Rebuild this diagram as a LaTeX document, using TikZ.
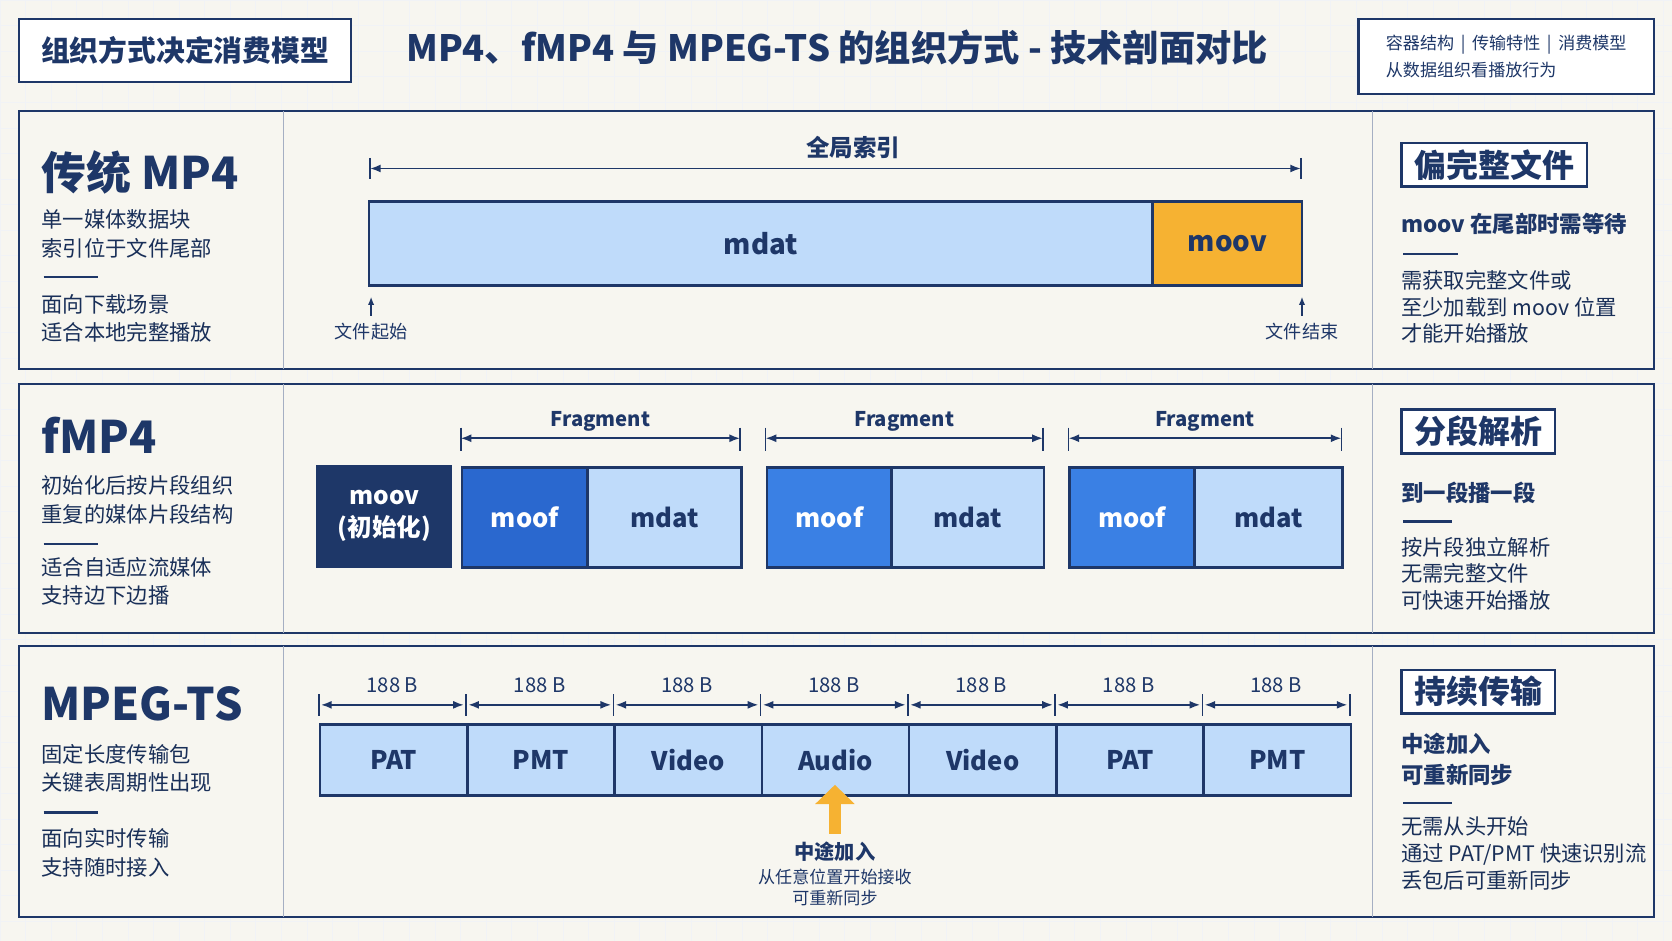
\documentclass[tikz,border=0pt]{standalone}
\usepackage{fontspec}
\setmainfont{Noto Sans CJK SC}
\usetikzlibrary{positioning,arrows.meta}
\definecolor{navy}{HTML}{1E3768}
\definecolor{paper}{HTML}{F7F6F0}
\definecolor{lblue}{HTML}{BFDBFA}
\definecolor{mblue}{HTML}{3A80E4}
\definecolor{dblue}{HTML}{2A68CF}
\definecolor{orng}{HTML}{F6B232}
\tikzset{
  panel/.style={draw=navy,line width=1pt,fill=paper},
  tag/.style={draw=navy,line width=1.2pt,fill=white,font=\bfseries\fontsize{15}{18}\selectfont,text=navy,inner xsep=6pt,inner ysep=3pt},
  rowttl/.style={anchor=west,font=\bfseries\fontsize{21}{24}\selectfont,text=navy},
  txt/.style={anchor=west,font=\fontsize{10}{12}\selectfont,text=navy!85!black},
  btxt/.style={anchor=west,font=\bfseries\fontsize{10.5}{12}\selectfont,text=navy},
  blk/.style={draw=navy,line width=1.2pt,font=\bfseries\fontsize{13}{15}\selectfont,text=navy,inner sep=0pt},
  dim/.style={navy,line width=0.8pt,{Latex[length=5pt]}-{Latex[length=5pt]}},
  small/.style={font=\bfseries\fontsize{9.5}{11}\selectfont,text=navy},
}
\begin{document}
\begin{tikzpicture}[x=0.5pt,y=-0.5pt]
  \fill[paper] (0,0) rectangle (1568,882);
  \useasboundingbox (0,0) rectangle (1568,882);
  \foreach \gx in {0,24,...,1568} \draw[navy!6] (\gx,0) -- (\gx,882);
  \foreach \gy in {0,24,...,882} \draw[navy!6] (0,\gy) -- (1568,\gy);

  % header
  \node[draw=navy,line width=1pt,fill=white,minimum width=155.5pt,minimum height=29.5pt,font=\bfseries\fontsize{13.5}{16}\selectfont,text=navy] (head) at (173.5,47.5) {组织方式决定消费模型};
  \node[font=\bfseries\fontsize{17}{20}\selectfont,text=navy] (title) at (785,45) {MP4、fMP4 与 MPEG-TS 的组织方式 - 技术剖面对比};
  \node[draw=navy,line width=1pt,fill=white,minimum width=138.5pt,minimum height=35pt,align=left,font=\fontsize{8}{13}\selectfont,text=navy] (keys) at (1412.5,53) {容器结构 \,\textbar\, 传输特性 \,\textbar\, 消费模型\\从数据组织看播放行为};

  % panels
  \foreach \ya/\yb in {104/346,360/594,606/860}{
    \draw[panel] (18,\ya) rectangle (1551,\yb);
    \draw[navy!40] (266,\ya) -- (266,\yb);
    \draw[navy!40] (1287,\ya) -- (1287,\yb);
  }

  % MP4
  \node[rowttl] (mp4) at (32,162) {传统 MP4};
  \node[txt] (m1) at (32,206) {单一媒体数据块};
  \node[txt] (m2) at (32,233) {索引位于文件尾部};
  \draw[navy,line width=1pt] (41,260) -- (92,260);
  \node[txt] (m3) at (32,285) {面向下载场景};
  \node[txt] (m4) at (32,312) {适合本地完整播放};
  \node[blk,fill=lblue,minimum width=367.5pt,minimum height=39.5pt] (mdat) at (713.5,228.5) {mdat};
  \node[blk,fill=orng,minimum width=70pt,minimum height=39.5pt] (moov) at (1151,228.5) {moov};
  \coordinate (gl) at (347,158); \coordinate (gr) at (1220,158);
  \draw[dim] (gl) -- (gr);
  \draw[navy,line width=0.8pt] (347,148) -- (347,168) (1220,148) -- (1220,168);
  \node[small,font=\bfseries\fontsize{11}{13}\selectfont] (gidx) at (800,138) {全局索引};
  \node[small,font=\fontsize{8.5}{10}\selectfont] (fs) at (348,311) {文件起始};
  \node[small,font=\fontsize{8.5}{10}\selectfont] (fe) at (1221,311) {文件结束};
  \coordinate (fsa) at (348,278); \coordinate (fea) at (1221,278);
  \draw[navy,line width=1pt,-{Latex[length=4pt]}] (fs.north) -- (fsa);
  \draw[navy,line width=1pt,-{Latex[length=4pt]}] (fe.north) -- (fea);
  \node[tag,anchor=north west] (t1) at (1313,133) {偏完整文件};
  \node[btxt] (r1) at (1307,210) {moov 在尾部时需等待};
  \draw[navy,line width=1pt] (1316,238) -- (1367,238);
  \node[txt] (r2) at (1307,263) {需获取完整文件或};
  \node[txt] (r3) at (1307,288) {至少加载到 moov 位置};
  \node[txt] (r4) at (1307,313) {才能开始播放};

  % fMP4
  \node[rowttl] (fmp4) at (32,408) {fMP4};
  \node[txt] (f1) at (32,455) {初始化后按片段组织};
  \node[txt] (f2) at (32,482) {重复的媒体片段结构};
  \draw[navy,line width=1pt] (41,510) -- (92,510);
  \node[txt] (f3) at (32,532) {适合自适应流媒体};
  \node[txt] (f4) at (32,558) {支持边下边播};
  \node[blk,fill=navy,text=white,align=center,minimum width=62.5pt,minimum height=47pt,font=\bfseries\fontsize{11.5}{15}\selectfont] (init) at (360.5,484) {moov\\(初始化)};
  \foreach \xa/\xb/\xc/\col/\i in {432/550/694/dblue/1,718/835/978/mblue/2,1002/1119/1258/mblue/3}{
    \node[blk,fill=\col,text=white,anchor=north west,minimum width={(\xb-\xa)/2*1pt},minimum height=47pt,font=\bfseries\fontsize{12}{14}\selectfont] (moof\i) at (\xa,437) {moof};
    \node[blk,fill=lblue,anchor=north west,minimum width={(\xc-\xb)/2*1pt},minimum height=47pt,font=\bfseries\fontsize{12}{14}\selectfont] (fdat\i) at (\xb,437) {mdat};
    \coordinate (fl\i) at (\xa,411); \coordinate (fr\i) at (\xc,411);
    \draw[dim] (fl\i) -- (fr\i);
    \draw[navy,line width=0.8pt] (\xa,401) -- (\xa,423) (\xc,401) -- (\xc,423);
    \node[small,font=\bfseries\fontsize{9.5}{11}\selectfont] (fl\i t) at ({(\xa+\xc)/2},395) {Fragment};
  }
  \node[tag,anchor=north west] (t2) at (1313,383) {分段解析};
  \node[btxt] (s1) at (1307,462) {到一段播一段};
  \draw[navy,line width=1pt] (1316,489) -- (1362,489);
  \node[txt] (s2) at (1307,513) {按片段独立解析};
  \node[txt] (s3) at (1307,538) {无需完整文件};
  \node[txt] (s4) at (1307,563) {可快速开始播放};

  % MPEG-TS
  \node[rowttl] (ts) at (32,660) {MPEG-TS};
  \node[txt] (p1) at (32,707) {固定长度传输包};
  \node[txt] (p2) at (32,734) {关键表周期性出现};
  \draw[navy,line width=1pt] (41,762) -- (92,762);
  \node[txt] (p3) at (32,786) {面向实时传输};
  \node[txt] (p4) at (32,813) {支持随时接入};
  \foreach \lab [count=\i from 0] in {PAT,PMT,Video,Audio,Video,PAT,PMT}{
    \pgfmathsetmacro{\xa}{299+\i*138.1}
    \node[blk,fill=lblue,anchor=north west,minimum width=69.05pt,minimum height=33.5pt,font=\bfseries\fontsize{12}{14}\selectfont] (pk\i) at (\xa,678) {\lab};
    \coordinate (pl\i) at (\xa+2,661); \coordinate (pr\i) at (\xa+136,661);
    \draw[dim] (pl\i) -- (pr\i);
    \draw[navy,line width=0.8pt] (\xa,651) -- (\xa,671);
    \node[small,font=\fontsize{9.5}{11}\selectfont] (pb\i) at (\xa+69,643) {188 B};
  }
  \draw[navy,line width=0.8pt] (1266,651) -- (1266,671);
  \coordinate (jtail) at (783,782); \coordinate (jtip) at (783,736);
  \draw[orng,line width=6pt,-{Triangle[length=9pt,width=18pt]}] (jtail) -- (jtip);
  \node[small,font=\bfseries\fontsize{9.5}{11}\selectfont] (join) at (783,799) {中途加入};
  \node[small,font=\fontsize{8}{10}\selectfont] (join2) at (783,822) {从任意位置开始接收};
  \node[small,font=\fontsize{8}{10}\selectfont] (join3) at (783,842) {可重新同步};
  \node[tag,anchor=north west] (t3) at (1313,627) {持续传输};
  \node[btxt] (u1) at (1307,698) {中途加入};
  \node[btxt] (u2) at (1307,727) {可重新同步};
  \draw[navy,line width=1pt] (1316,753) -- (1362,753);
  \node[txt] (u3) at (1307,775) {无需从头开始};
  \node[txt] (u4) at (1307,801) {通过 PAT/PMT 快速识别流};
  \node[txt] (u5) at (1307,826) {丢包后可重新同步};
\end{tikzpicture}
\end{document}
